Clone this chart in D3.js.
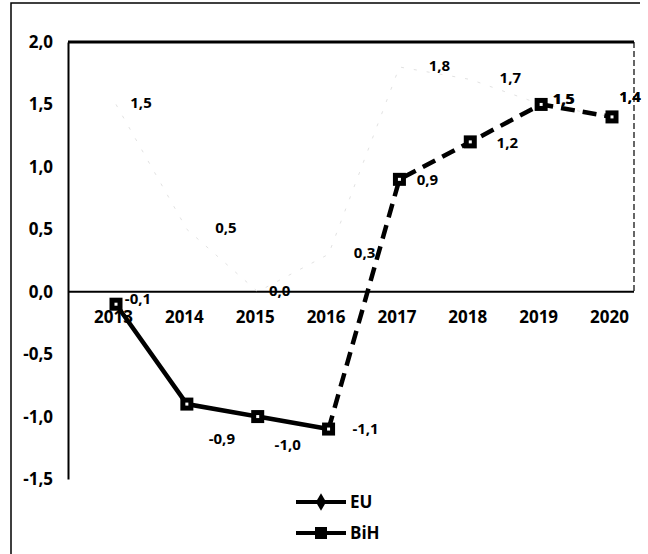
<!DOCTYPE html>
<html>
<head>
<meta charset="utf-8">
<script src="https://cdn.jsdelivr.net/npm/d3@7"></script>
<style>
  body { margin: 0; background: #fff; }
  svg text { font-family: "Open Sans", "DejaVu Sans", sans-serif; font-weight: 700; fill: #000; }
</style>
</head>
<body>
<div id="chart"></div>
<script>
var years = ["2013", "2014", "2015", "2016", "2017", "2018", "2019", "2020"];
var euValues = [1.5, 0.5, 0.0, 0.3, 1.8, 1.7, 1.5, 1.4];
var bihValues = [-0.1, -0.9, -1.0, -1.1, 0.9, 1.2, 1.5, 1.4];
var yTicks = [-1.5, -1.0, -0.5, 0.0, 0.5, 1.0, 1.5, 2.0];
var seriesNames = ["EU", "BiH"];

// label offsets (dx, dy) per point, layout only
var euLabelOff = [[25, 4], [39, 4], [22, 4], [36, 4], [40, 4], [40, 4], [22, 0], [18, -15]];
var bihLabelOff = [[22, 0], [35, 40], [30, 33], [37, 5], [28, 6], [37, 6], [23, 0], [18, -15]];

var W = 648, H = 554;
var svg = d3.select("#chart").append("svg")
  .attr("width", W).attr("height", H);

var x = d3.scalePoint().domain(years).range([116, 612]);
var y = d3.scaleLinear().domain([-1.5, 2.0]).range([479, 42]);
var fmt = function(v) { return d3.format(".1f")(v).replace(".", ",").replace("−", "-"); };

// outer frame (scan edge)
svg.append("path")
  .attr("d", "M11,554 L11,3 L640,3")
  .attr("fill", "none").attr("stroke", "#000").attr("stroke-width", 1.5);

// plot frame: top and right
svg.append("line")
  .attr("x1", 68).attr("x2", 634).attr("y1", y(2.0)).attr("y2", y(2.0))
  .attr("stroke", "#000").attr("stroke-width", 3);
svg.append("line")
  .attr("x1", 634).attr("x2", 634).attr("y1", y(2.0)).attr("y2", y(0))
  .attr("stroke", "#000").attr("stroke-width", 1.2)
  .attr("stroke-dasharray", "6,3");

// y axis
var yAxis = svg.append("g")
  .attr("transform", "translate(68,0)")
  .call(d3.axisLeft(y).tickValues(yTicks).tickSize(0).tickPadding(15).tickFormat(fmt));
yAxis.select(".domain").attr("stroke", "#000").attr("stroke-width", 2);
yAxis.selectAll("text").style("font-size", "17px");

// zero line
svg.append("line")
  .attr("x1", 68).attr("x2", 634).attr("y1", y(0)).attr("y2", y(0))
  .attr("stroke", "#000").attr("stroke-width", 2);

// x axis labels
var xAxis = svg.append("g")
  .attr("transform", "translate(-3," + y(0) + ")")
  .call(d3.axisBottom(x).tickSize(0).tickPadding(19));
xAxis.select(".domain").remove();
xAxis.selectAll("text").style("font-size", "17px");

// EU line (almost faded out in the scan)
var euLine = d3.line()
  .x(function(d, i) { return x(years[i]); })
  .y(function(d) { return y(d); });
svg.append("path")
  .datum(euValues)
  .attr("d", euLine)
  .attr("fill", "none")
  .attr("stroke", "#e2e2e2")
  .attr("stroke-width", 1)
  .attr("stroke-dasharray", "3,10");

// BiH line: solid to 2016, dashed after
var bihLine = d3.line()
  .x(function(d) { return x(d.year); })
  .y(function(d) { return y(d.v); });
var bihPts = years.map(function(yr, i) { return {year: yr, v: bihValues[i]}; });
svg.append("path")
  .datum(bihPts.slice(0, 4))
  .attr("d", bihLine)
  .attr("fill", "none").attr("stroke", "#000").attr("stroke-width", 4.5);
svg.append("path")
  .datum(bihPts.slice(3))
  .attr("d", bihLine)
  .attr("fill", "none").attr("stroke", "#000").attr("stroke-width", 4.5)
  .attr("stroke-dasharray", "14,8");

// BiH markers
var mk = svg.append("g").selectAll("g")
  .data(bihPts)
  .enter().append("g")
  .attr("transform", function(d) { return "translate(" + x(d.year) + "," + y(d.v) + ")"; });
mk.append("rect")
  .attr("x", -6.5).attr("y", -6.5).attr("width", 13).attr("height", 13)
  .attr("fill", "#000");
mk.append("rect")
  .attr("x", -1.5).attr("y", -1.5).attr("width", 3).attr("height", 3)
  .attr("fill", "#fff");

// data labels
svg.append("g").selectAll("text")
  .data(euValues)
  .enter().append("text")
  .attr("x", function(d, i) { return x(years[i]) + euLabelOff[i][0]; })
  .attr("y", function(d, i) { return y(d) + euLabelOff[i][1]; })
  .attr("text-anchor", "middle")
  .style("font-size", "15px")
  .text(function(d) { return fmt(d); });

svg.append("g").selectAll("text")
  .data(bihValues)
  .enter().append("text")
  .attr("x", function(d, i) { return x(years[i]) + bihLabelOff[i][0]; })
  .attr("y", function(d, i) { return y(d) + bihLabelOff[i][1]; })
  .attr("text-anchor", "middle")
  .style("font-size", "15px")
  .text(function(d) { return fmt(d); });

// legend
var leg = svg.append("g").attr("transform", "translate(296,502)");
seriesNames.forEach(function(name, i) {
  var g = leg.append("g").attr("transform", "translate(0," + (i * 31) + ")");
  g.append("line")
    .attr("x1", 0).attr("x2", 50).attr("y1", 0).attr("y2", 0)
    .attr("stroke", "#000").attr("stroke-width", 4);
  if (name === "EU") {
    g.append("path")
      .attr("d", d3.symbol().type(d3.symbolDiamond).size(90))
      .attr("transform", "translate(25,0)")
      .attr("fill", "#000");
  } else {
    g.append("rect")
      .attr("x", 19).attr("y", -6).attr("width", 12).attr("height", 12)
      .attr("fill", "#000");
  }
  g.append("text")
    .attr("x", 54).attr("y", 0).attr("dy", "0.35em")
    .style("font-size", "17px")
    .text(name);
});
</script>
</body>
</html>
